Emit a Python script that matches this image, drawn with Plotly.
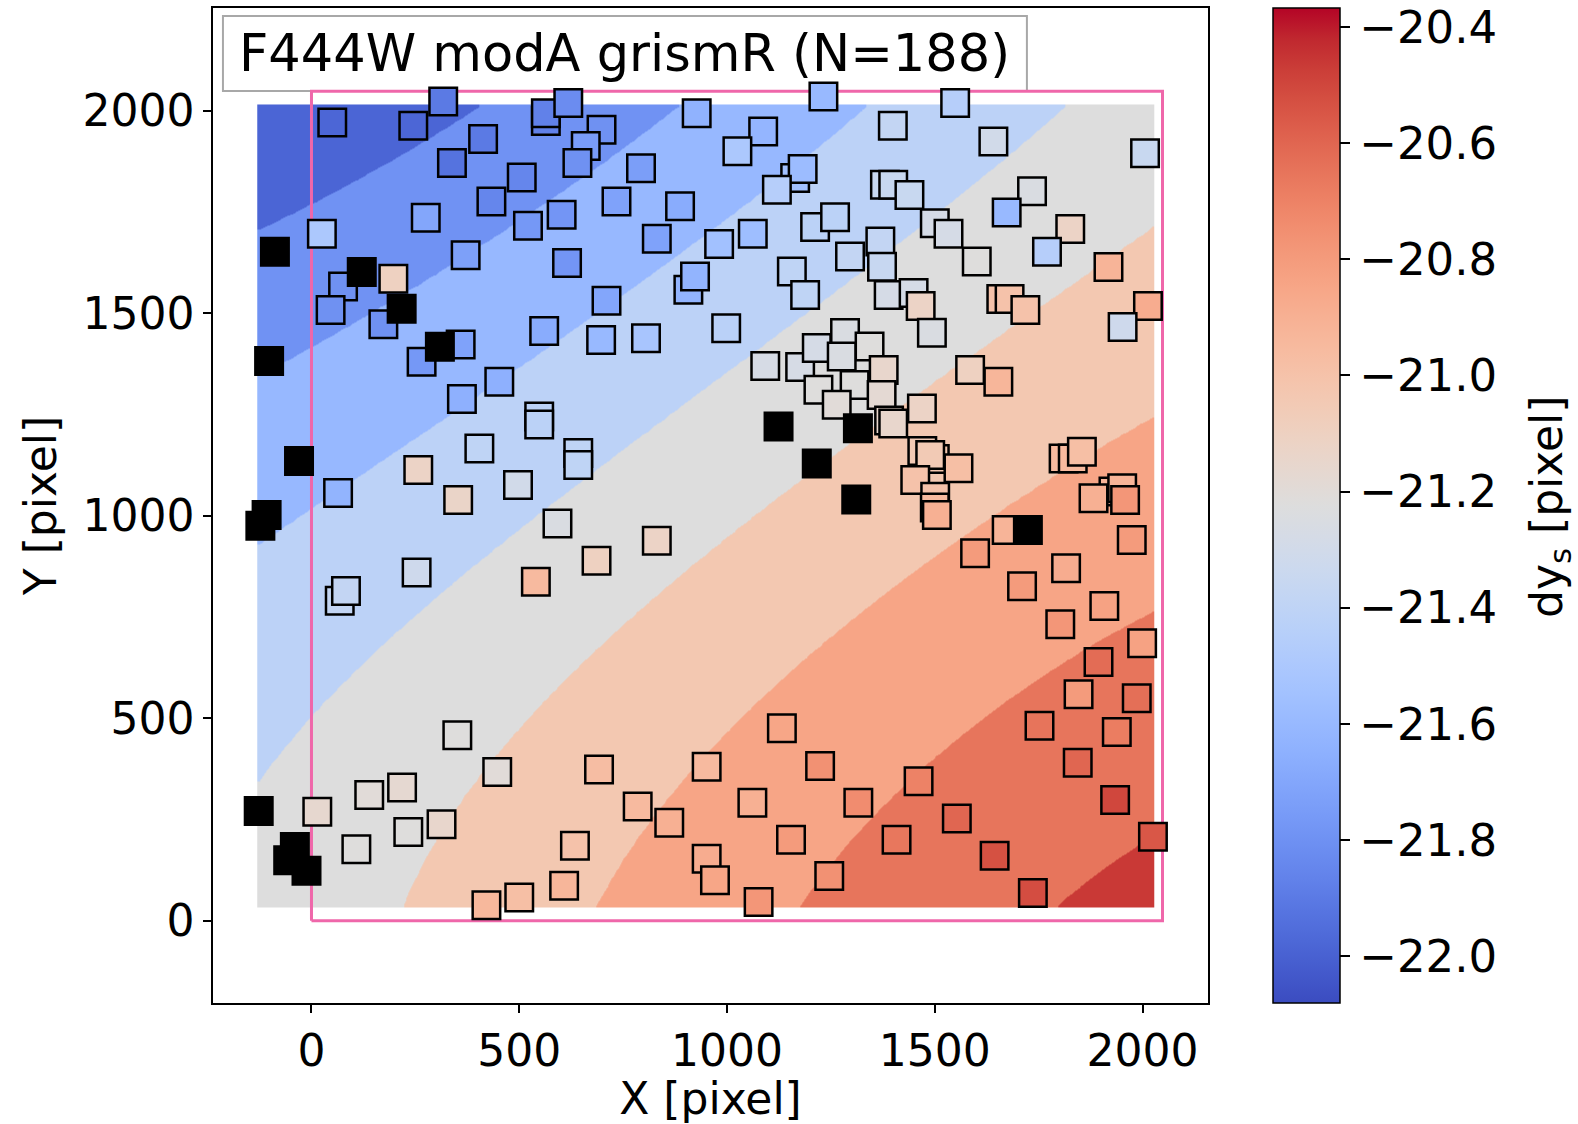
import numpy as np
import plotly.graph_objects as go

# ---------------- data ----------------
# sources with a measured dy_s (x, y in detector pixels)
src_x = [50, 245, 317, 413, 338, 564, 564, 618, 698, 660, 640, 793, 927, 506, 433, 275, 521, 602, 734, 887,
         831, 371, 615, 25, 76, 46, 197, 173, 710, 907, 923, 560, 697, 805, 265, 359, 452, 362, 548, 548,
         642, 642, 404, 257, 497, 64, 353,
         1232, 1549, 1399, 1641, 2006, 1087, 1025, 1164, 1182, 1120, 1380, 1400, 1439, 1734, 1673, 1500, 1533, 1601, 1826, 1770,
         1918, 2013, 1952, 1660, 1680, 1718, 1062, 981, 1212, 1260, 1296, 1369, 1373, 1156, 1188, 1389, 1449, 1466, 1493, 998,
         1092, 1176, 1216, 1284, 1343, 1276, 1220, 1307, 1377, 1264, 1372, 1390, 1400, 1469, 1585, 1653, 1470, 1500, 1489, 1557,
         1453, 1810, 1832, 1854, 1930, 1951, 1882, 1501,
         1500, 1505, 1673, 1597, 1958, 1974, 1816, 1710, 1908, 1802, 1999, 1894, 1846, 1986, 1752, 1938, 1844, 1934, 2025, 1736,
         1644, 1553, 1461, 1408, 1246, 1316, 1224, 1132, 951, 1061, 1154, 951, 971, 1076,
         592, 686, 540, 831, 253, 68, 83, 351, 447, 692, 218, 139, 14, 313, 233, 108, 785, 861, 634, 608, 500, 421]
src_y = [1971, 1963, 2023, 1930, 1871, 1975, 1994, 2019, 1953, 1913, 1871, 1858, 1994, 1835, 1776, 1736, 1716, 1743, 1776, 1764,
         1684, 1643, 1624, 1696, 1566, 1508, 1585, 1473, 1531, 1558, 1591, 1456, 1434, 1438, 1380, 1423, 1331, 1288, 1245, 1225,
         1155, 1125, 1166, 1113, 1076, 1056, 1039,
         2035, 2019, 1963, 1924, 1895, 1949, 1900, 1834, 1856, 1805, 1817, 1817, 1792, 1801, 1749, 1722, 1696, 1628, 1708, 1652,
         1614, 1518, 1466, 1535, 1535, 1508, 1696, 1671, 1713, 1737, 1640, 1677, 1615, 1603, 1545, 1545, 1550, 1518, 1452, 1463,
         1370, 1367, 1414, 1451, 1418, 1393, 1311, 1323, 1360, 1274, 1298, 1235, 1228, 1265, 1360, 1331, 1160, 1140, 1150, 1117,
         1088, 1141, 1141, 1158, 1060, 1068, 1043, 1047,
         1020, 1002, 965, 907, 1039, 940, 870, 826, 777, 732, 685, 639, 559, 549, 481, 466, 390, 298, 207, 68,
         160, 252, 344, 200, 110, 291, 382, 475, 380, 291, 200, 153, 100, 46,
         981, 889, 837, 938, 860, 790, 814, 458, 367, 373, 329, 310, 269, 238, 219, 176, 282, 242, 185, 86, 57, 38]
src_dy = [-21.98, -21.98, -21.90, -21.90, -21.93, -21.87, -21.87, -21.82, -21.80, -21.75, -21.80, -21.74, -21.64, -21.85, -21.85,
          -21.70, -21.77, -21.78, -21.72, -21.67, -21.72, -21.73, -21.78, -21.50, -21.80, -21.80, -21.10, -21.80, -21.70, -21.63,
          -21.63, -21.67, -21.60, -21.52, -21.77, -21.72, -21.65, -21.65, -21.42, -21.42, -21.40, -21.40, -21.40, -21.12, -21.30,
          -21.63, -21.13,
          -21.60, -21.45, -21.38, -21.30, -21.35, -21.62, -21.50, -21.55, -21.58, -21.45, -21.35, -21.35, -21.35, -21.25, -21.60,
          -21.28, -21.28, -21.22, -21.12, -21.45, -20.92, -20.88, -21.32, -21.00, -21.00, -21.00, -21.57, -21.55, -21.42, -21.42,
          -21.38, -21.38, -21.36, -21.40, -21.40, -21.28, -21.28, -21.12, -21.25, -21.43, -21.27, -21.27, -21.28, -21.25, -21.22,
          -21.25, -21.22, -21.22, -21.15, -21.20, -21.18, -21.15, -21.15, -21.12, -21.10, -20.93, -21.05, -21.02, -21.05, -20.98,
          -21.00, -20.95, -20.95, -20.98, -20.92, -20.92, -20.90, -21.00,
          -20.95, -20.90, -20.92, -20.80, -20.78, -20.80, -20.88, -20.80, -20.83, -20.78, -20.83, -20.62, -20.80, -20.63, -20.65,
          -20.68, -20.60, -20.50, -20.55, -20.52, -20.53, -20.60, -20.70, -20.66, -20.76, -20.74, -20.76, -20.85, -20.95, -20.90,
          -20.80, -20.88, -20.85, -20.78,
          -21.25, -21.10, -20.95, -21.12, -21.32, -21.38, -21.38, -21.22, -21.20, -20.97, -21.17, -21.20, -21.16, -21.15, -21.22,
          -21.22, -20.95, -20.90, -21.00, -20.93, -20.98, -20.94]

# rejected sources (drawn black)
rej_x = [-88, 121, 217, -102, 309, -30, -123, -108, -127, -40, -56, -12, 1124, 1315, 1216, 1311, 1724]
rej_y = [1652, 1602, 1511, 1382, 1417, 1135, 975, 1002, 271, 182, 149, 123, 1220, 1216, 1129, 1040, 965]

# filled-contour model: positions of the contour boundaries
levels = [-22.1, -21.9, -21.7, -21.5, -21.3, -21.1, -20.9, -20.7, -20.5, -20.3]
bnd_x = [-128, 0, 200, 421,
         -128, 0, 400, 894,
         -128, 0, 99, 958, 1345,
         -128, 0, 237, 557, 958, 1843,
         253, 477, 958, 1111, 2022,
         702, 935, 1617, 1760, 2022,
         1188, 1417, 1737, 2022,
         1798, 2022,
         -126, 2024, 2024, -126]
bnd_y = [1694, 1768, 1884, 2012,
         1360, 1430, 1689, 2012,
         919, 998, 1088, 1706, 2012,
         322, 487, 718, 1039, 1327, 2012,
         32, 446, 923, 1039, 1693,
         42, 429, 948, 1060, 1241,
         38, 365, 619, 771,
         38, 195,
         2011, 2011, 38, 38]
bnd_dy = [-21.9, -21.9, -21.9, -21.9,
          -21.7, -21.7, -21.7, -21.7,
          -21.5, -21.5, -21.5, -21.5, -21.5,
          -21.3, -21.3, -21.3, -21.3, -21.3, -21.3,
          -21.1, -21.1, -21.1, -21.1, -21.1,
          -20.9, -20.9, -20.9, -20.9, -20.9,
          -20.7, -20.7, -20.7, -20.7,
          -20.5, -20.5,
          -22.08, -21.2, -20.45, -21.22]
model_x_range = [-126, 2024]
model_y_range = [38, 2011]

detector = [0, 2048]
title_text = "F444W modA grismR (N=188)"
cbar_ticks = [-22.0, -21.8, -21.6, -21.4, -21.2, -21.0, -20.8, -20.6, -20.4]
cmin, cmax = -22.081, -20.367

# ---------------- colours ----------------
coolwarm_rgb = [(59, 76, 192), (68, 90, 204), (77, 104, 215), (87, 117, 225), (98, 130, 234), (108, 142, 241),
                (119, 154, 247), (130, 165, 251), (141, 176, 254), (152, 185, 255), (163, 194, 255), (174, 201, 253),
                (184, 208, 249), (194, 213, 244), (204, 217, 238), (213, 219, 230), (221, 221, 221), (229, 216, 209),
                (236, 211, 197), (241, 204, 184), (245, 196, 172), (247, 187, 160), (247, 177, 148), (247, 166, 135),
                (244, 154, 123), (241, 141, 111), (236, 127, 99), (229, 112, 88), (222, 96, 77), (213, 80, 66),
                (203, 62, 56), (192, 40, 47), (180, 4, 38)]
n = len(coolwarm_rgb) - 1
coolwarm = [[i / n, "rgb(%d,%d,%d)" % c] for i, c in enumerate(coolwarm_rgb)]


def cw(t):
    t = min(max(t, 0), 1) * n
    i = min(int(t), n - 1)
    f = t - i
    a, b = coolwarm_rgb[i], coolwarm_rgb[i + 1]
    return "rgb(%d,%d,%d)" % tuple(round(a[k] + (b[k] - a[k]) * f) for k in range(3))


nb = len(levels) - 1
band_cols = [cw((i + 0.5) / nb) for i in range(nb)]
stepped = []
for i, c in enumerate(band_cols):
    stepped.append([i / nb, c])
    stepped.append([(i + 1) / nb, c])

# ---------------- smooth cubic surface through the read boundaries ----------------
def terms(u, v):
    return [np.ones_like(u), u, v, u * u, u * v, v * v, u ** 3, u * u * v, u * v * v, v ** 3]


bx = np.array(bnd_x) / 1000.0
by = np.array(bnd_y) / 1000.0
A = np.column_stack(terms(bx, by))
coef, *_ = np.linalg.lstsq(A, np.array(bnd_dy), rcond=None)

gx = np.linspace(model_x_range[0], model_x_range[1], 240)
gy = np.linspace(model_y_range[0], model_y_range[1], 220)
GX, GY = np.meshgrid(gx / 1000.0, gy / 1000.0)
GZ = sum(c * t for c, t in zip(coef, terms(GX, GY)))

fig = go.Figure()
fig.add_trace(go.Heatmap(x=gx, y=gy, z=GZ, colorscale=stepped, zmin=levels[0], zmax=levels[-1],
                         zsmooth="best", showscale=False, hoverinfo="skip"))
fig.add_trace(go.Scatter(x=[detector[0], detector[1], detector[1], detector[0], detector[0]],
                         y=[detector[0], detector[0], detector[1], detector[1], detector[0]],
                         mode="lines", line=dict(color="#ef67aa", width=3), hoverinfo="skip", showlegend=False))
fig.add_trace(go.Scatter(
    x=src_x, y=src_y, mode="markers", showlegend=False,
    marker=dict(symbol="square", size=27.5, color=src_dy, colorscale=coolwarm, cmin=cmin, cmax=cmax,
                line=dict(color="black", width=2.5),
                colorbar=dict(x=1.0653, xanchor="left", y=0.5, yanchor="middle", len=1, lenmode="fraction",
                              thickness=67, thicknessmode="pixels", xpad=0, ypad=0,
                              outlinewidth=1.5, outlinecolor="black",
                              ticks="outside", ticklen=10, tickwidth=1.5, tickcolor="black",
                              tickvals=cbar_ticks, ticktext=["\u2212%.1f" % abs(v) for v in cbar_ticks],
                              tickfont=dict(size=45, color="black")))))
fig.add_trace(go.Scatter(x=rej_x, y=rej_y, mode="markers", showlegend=False,
                         marker=dict(symbol="square", size=27.5, color="black",
                                     line=dict(color="black", width=2.5))))

fig.add_shape(type="rect", xref="paper", yref="paper", x0=0.010, x1=0.818, y0=0.9166, y1=0.992,
              line=dict(color="#a8a8a8", width=2), fillcolor="white", layer="below")
fig.add_annotation(text=title_text, xref="paper", yref="paper", x=0.414, y=0.9543,
                   xanchor="center", yanchor="middle", showarrow=False,
                   font=dict(size=51, color="black"))
# colour-bar label
fig.add_annotation(text="dy<sub>s</sub> [pixel]", xref="paper", yref="paper", x=1.3437, y=0.4985,
                   xanchor="center", yanchor="middle", textangle=-90, showarrow=False,
                   font=dict(size=44, color="black"))

axis_common = dict(showgrid=False, zeroline=False, showline=True, linecolor="black", linewidth=1.5,
                   mirror=True, ticks="outside", ticklen=8, tickwidth=1.5, tickcolor="black",
                   tickfont=dict(size=44, color="black"))
fig.update_xaxes(range=[-237, 2157.5], tickvals=[0, 500, 1000, 1500, 2000],
                 title=dict(text="X [pixel]", font=dict(size=44, color="black"), standoff=1), **axis_common)
fig.update_yaxes(range=[-203.4, 2253.8], tickvals=[0, 500, 1000, 1500, 2000],
                 title=dict(text="Y [pixel]", font=dict(size=44, color="black"), standoff=12), **axis_common)

fig.update_layout(width=1578, height=1124, margin=dict(l=213, r=370, t=8, b=121, autoexpand=False),
                  plot_bgcolor="white", paper_bgcolor="white",
                  font=dict(family="DejaVu Sans", color="black"), showlegend=False)
fig.write_html("out.html")
